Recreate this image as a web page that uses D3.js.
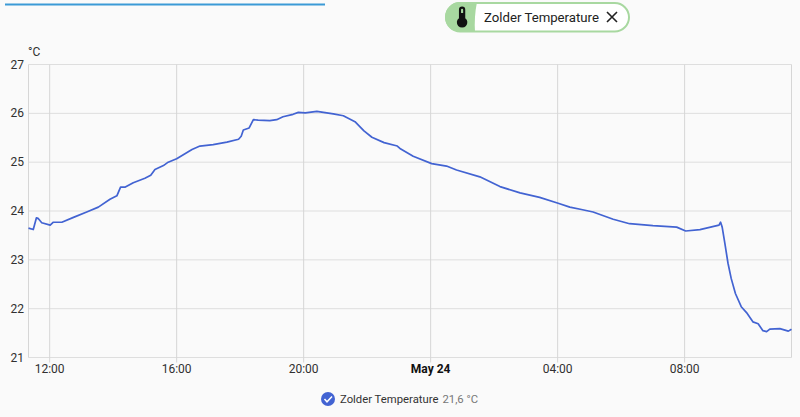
<!DOCTYPE html>
<html>
<head>
<meta charset="utf-8">
<script src="https://cdn.jsdelivr.net/npm/d3@7"></script>
<style>
  html, body { margin: 0; padding: 0; background: #fafafa; }
  svg { display: block; font-family: Roboto, sans-serif; }
  .grid line { stroke: #dedede; stroke-width: 1; }
  .grid line.v, .grid line.edge { stroke: #d6d6d6; }
  .tick-label { font-size: 12px; fill: #303030; }
</style>
</head>
<body>
<svg id="chart" width="800" height="417"></svg>
<script>
// minutes since May 23 00:00
const minutes = [680, 689, 695, 698, 705, 721, 727, 743, 765, 790, 812, 834, 847, 854, 863, 878,
  900, 911, 919, 935, 944, 960, 989, 1004, 1029, 1055, 1077, 1082, 1086, 1097, 1105, 1114,
  1136, 1149, 1161, 1180, 1190, 1203, 1225, 1256, 1275, 1297, 1314, 1329, 1352, 1377, 1382,
  1407, 1442, 1470, 1489, 1533, 1571, 1609, 1646, 1681, 1703, 1725, 1747, 1785, 1816, 1860,
  1905, 1922, 1949, 1977, 1985, 1988, 1991, 1996, 2002, 2008, 2016, 2027, 2037, 2049, 2059,
  2068, 2075, 2081, 2100, 2116, 2122];
const temps = [23.65, 23.62, 23.86, 23.85, 23.76, 23.71, 23.77, 23.77, 23.87, 23.98, 24.08, 24.24, 24.31, 24.49, 24.49, 24.58,
  24.67, 24.73, 24.85, 24.93, 25.0, 25.07, 25.26, 25.33, 25.36, 25.41, 25.47, 25.53, 25.66, 25.70, 25.87, 25.86,
  25.85, 25.87, 25.93, 25.98, 26.02, 26.01, 26.04, 25.99, 25.95, 25.83, 25.64, 25.51, 25.40, 25.33, 25.28,
  25.12, 24.97, 24.92, 24.84, 24.70, 24.50, 24.37, 24.28, 24.16, 24.08, 24.03, 23.98, 23.83, 23.74, 23.70,
  23.67, 23.59, 23.62, 23.69, 23.71, 23.77, 23.67, 23.34, 22.93, 22.62, 22.31, 22.04, 21.92, 21.73, 21.69,
  21.55, 21.53, 21.58, 21.59, 21.54, 21.58];
const yTicks = [21, 22, 23, 24, 25, 26, 27];
const xTickMinutes = [720, 960, 1200, 1440, 1680, 1920];
const xTickLabels = ["12:00", "16:00", "20:00", "May 24", "04:00", "08:00"];
const seriesName = "Zolder Temperature";
const lastValue = "21,6 °C";
const unit = "°C";

const lineColor = "#4263d2";
const plotLeft = 28.5, plotRight = 791.5, plotTop = 64.5, plotBottom = 357.5;
const svg = d3.select("#chart");

const x = d3.scaleLinear().domain([680, 2122]).range([plotLeft, plotRight]);
const y = d3.scaleLinear().domain([21, 27]).range([plotBottom, plotTop]);

// --- Grid ---
const grid = svg.append("g").attr("class", "grid");
grid.selectAll("line.h").data(yTicks).join("line")
  .attr("class", "h")
  .attr("x1", plotLeft).attr("x2", plotRight)
  .attr("y1", d => y(d)).attr("y2", d => y(d));
grid.selectAll("line.v").data(xTickMinutes).join("line")
  .attr("class", "v")
  .attr("x1", d => x(d)).attr("x2", d => x(d))
  .attr("y1", plotTop).attr("y2", plotBottom + 5);
grid.selectAll("line.edge").data([plotLeft, plotRight]).join("line")
  .attr("class", "edge")
  .attr("x1", d => d).attr("x2", d => d)
  .attr("y1", plotTop).attr("y2", plotBottom);

// --- Axis labels ---
svg.selectAll("text.ylab").data(yTicks).join("text")
  .attr("class", "ylab tick-label")
  .attr("x", 24).attr("y", d => y(d) + 4)
  .attr("text-anchor", "end")
  .text(d => d);

svg.selectAll("text.xlab").data(xTickMinutes).join("text")
  .attr("class", "xlab tick-label")
  .attr("x", d => x(d)).attr("y", 373)
  .attr("text-anchor", "middle")
  .style("font-weight", (d, i) => xTickLabels[i] === "May 24" ? 700 : 400)
  .style("fill", (d, i) => xTickLabels[i] === "May 24" ? "#111" : null)
  .text((d, i) => xTickLabels[i]);

svg.append("text").attr("class", "tick-label")
  .attr("x", 28).attr("y", 56).text(unit);

// --- Line ---
const line = d3.line().x(d => x(d[0])).y(d => y(d[1]));
svg.append("path")
  .datum(d3.zip(minutes, temps))
  .attr("d", line)
  .attr("fill", "none")
  .attr("stroke", lineColor)
  .attr("stroke-width", 1.7)
  .attr("stroke-linejoin", "round");

// --- Top bar ---
svg.append("rect").attr("x", 5).attr("y", 3.5).attr("width", 320).attr("height", 2).attr("fill", "#3b9ad6");

// --- Chip ---
const chip = svg.append("g");
chip.append("rect").attr("x", 446).attr("y", 3).attr("width", 183).attr("height", 28.5).attr("rx", 14.25)
  .attr("fill", "#fff").attr("stroke", "#a8d8a0").attr("stroke-width", 2);
chip.append("path")
  .attr("d", "M460 2 H477 Q474 17 475 32 H460 A15 15 0 0 1 460 2 Z")
  .attr("fill", "#a8d8a0");
chip.append("path")
  .attr("d", "M15 13V5A3 3 0 0 0 9 5V13A5 5 0 1 0 15 13M12 4A1 1 0 0 1 13 5V8H11V5A1 1 0 0 1 12 4Z")
  .attr("transform", "translate(449.5,4.5) scale(1.05)")
  .attr("fill", "#111");
chip.append("text").attr("x", 484).attr("y", 22)
  .style("font-size", "13.2px").style("fill", "#222").text(seriesName);
chip.append("path")
  .attr("d", "M607 12 L617 22 M617 12 L607 22")
  .attr("stroke", "#222").attr("stroke-width", 1.6).attr("fill", "none");

// --- Legend ---
const legend = svg.append("g");
legend.append("circle").attr("cx", 328).attr("cy", 399).attr("r", 7).attr("fill", lineColor);
legend.append("path").attr("d", "M324.5 399 L327 401.8 L332 396.5")
  .attr("fill", "none").attr("stroke", "#fff").attr("stroke-width", 1.5);
const legendText = legend.append("text").attr("x", 340).attr("y", 403).style("font-size", "11.3px");
legendText.append("tspan").style("fill", "#333").text(seriesName);
legendText.append("tspan").attr("dx", 4).style("fill", "#777").text(lastValue);
</script>
</body>
</html>
